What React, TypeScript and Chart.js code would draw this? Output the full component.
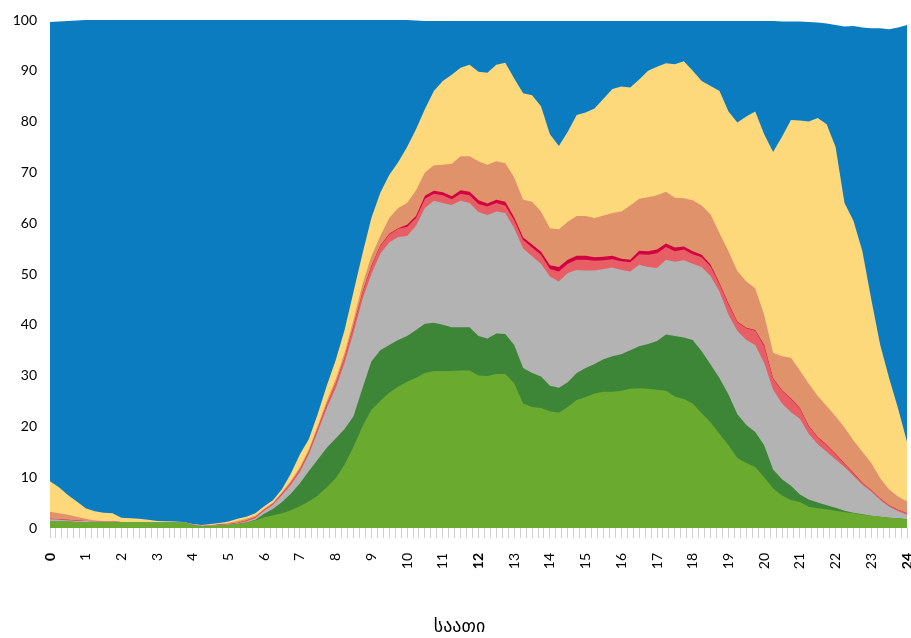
import React, { useEffect, useRef } from "react";
import { Chart, registerables } from "chart.js";

Chart.register(...registerables);

// hour of day (15-minute steps)
const hours = [
  0, 0.25, 0.5, 0.75, 1, 1.25, 1.5, 1.75, 2, 2.25, 2.5, 2.75, 3, 3.25, 3.5, 3.75,
  4, 4.25, 4.5, 4.75, 5, 5.25, 5.5, 5.75, 6, 6.25, 6.5, 6.75, 7, 7.25, 7.5, 7.75,
  8, 8.25, 8.5, 8.75, 9, 9.25, 9.5, 9.75, 10, 10.25, 10.5, 10.75, 11, 11.25, 11.5, 11.75,
  12, 12.25, 12.5, 12.75, 13, 13.25, 13.5, 13.75, 14, 14.25, 14.5, 14.75, 15, 15.25, 15.5, 15.75,
  16, 16.25, 16.5, 16.75, 17, 17.25, 17.5, 17.75, 18, 18.25, 18.5, 18.75, 19, 19.25, 19.5, 19.75,
  20, 20.25, 20.5, 20.75, 21, 21.25, 21.5, 21.75, 22, 22.25, 22.5, 22.75, 23, 23.25, 23.5, 23.75,
  24,
];

// cumulative upper boundaries (%) of each stacked band, bottom to top
const lightGreenTop = [
  1.3, 1.3, 1.3, 1.2, 1.2, 1.2, 1.2, 1.2, 1.1, 1.1, 1.1, 1.1, 1.1, 1.1, 1.1, 1.1,
  0.6, 0.3, 0.4, 0.5, 0.6, 0.8, 1.1, 1.5, 2.1, 2.5, 2.9, 3.5, 4.3, 5.2, 6.4, 8.0,
  9.8, 12.5, 16.0, 20.0, 23.3, 25.0, 26.6, 27.8, 28.8, 29.6, 30.5, 30.9, 30.9, 30.9, 31.0, 31.0,
  30.0, 29.9, 30.3, 30.3, 28.5, 24.5, 23.8, 23.6, 23.0, 22.7, 23.8, 25.2, 25.8, 26.5, 26.8, 26.8,
  27.0, 27.4, 27.5, 27.4, 27.2, 27.0, 25.9, 25.4, 24.5, 22.6, 20.8, 18.5, 16.3, 13.8, 12.8, 12.0,
  10.0, 7.8, 6.4, 5.5, 5.1, 4.2, 3.9, 3.7, 3.4, 3.1, 2.9, 2.6, 2.4, 2.2, 2.0, 1.9,
  1.7,
];
const darkGreenTop = [
  1.3, 1.3, 1.3, 1.2, 1.2, 1.2, 1.2, 1.2, 1.1, 1.1, 1.1, 1.1, 1.1, 1.1, 1.1, 1.1,
  0.6, 0.3, 0.4, 0.5, 0.6, 0.8, 1.1, 1.6, 2.8, 3.8, 5.1, 6.8, 8.8, 11.2, 13.5, 15.8,
  17.6, 19.5, 22.0, 27.5, 32.8, 35.0, 36.0, 37.0, 37.8, 39.0, 40.2, 40.4, 40.0, 39.5, 39.5, 39.5,
  37.8, 37.3, 38.3, 38.2, 36.0, 31.5, 30.5, 29.8, 28.0, 27.6, 28.7, 30.5, 31.5, 32.3, 33.2, 33.8,
  34.2, 35.0, 35.8, 36.2, 36.8, 38.1, 37.8, 37.5, 37.0, 34.8, 32.2, 29.5, 26.3, 22.4, 20.3, 18.9,
  16.3, 11.5, 9.6, 8.3, 6.6, 5.6, 5.0, 4.5, 4.0, 3.4, 3.0, 2.7, 2.4, 2.2, 2.0, 1.9,
  1.7,
];
const grayTop = [
  1.7, 1.6, 1.5, 1.4, 1.4, 1.3, 1.3, 1.3, 1.2, 1.2, 1.2, 1.2, 1.2, 1.2, 1.2, 1.2,
  0.7, 0.4, 0.5, 0.6, 0.7, 0.9, 1.3, 1.9, 3.4, 4.6, 6.5, 8.5, 11.0, 14.5, 19.0, 23.5,
  27.5, 32.5, 38.5, 45.0, 50.0, 54.0, 56.2, 57.3, 57.5, 59.5, 63.0, 64.4, 64.0, 63.6, 64.4, 64.0,
  62.2, 61.6, 62.3, 62.0, 59.0, 55.0, 53.5, 52.0, 49.5, 48.5, 50.2, 50.8, 50.7, 50.7, 51.0, 51.3,
  50.8, 50.5, 51.8, 51.4, 51.2, 52.8, 52.4, 52.7, 52.0, 51.4, 49.6, 46.5, 42.0, 38.8, 37.0, 36.0,
  32.5, 27.2, 24.5, 22.8, 21.5, 18.5, 16.5, 15.0, 13.5, 12.0, 10.3, 8.5, 7.2, 5.5, 4.2, 3.3,
  2.6,
];
const pinkTop = [
  1.8, 1.7, 1.6, 1.5, 1.4, 1.3, 1.3, 1.3, 1.2, 1.2, 1.2, 1.2, 1.2, 1.2, 1.2, 1.2,
  0.7, 0.4, 0.5, 0.7, 0.8, 1.0, 1.5, 2.1, 3.6, 4.8, 6.8, 8.9, 11.5, 15.0, 19.6, 24.3,
  28.4, 33.5, 39.7, 46.3, 51.5, 55.5, 57.8, 58.9, 59.3, 61.0, 64.8, 65.8, 65.5, 64.7, 65.8, 65.5,
  63.8, 63.3, 64.0, 63.5, 60.6, 56.7, 55.2, 53.8, 51.0, 50.5, 52.0, 52.8, 52.8, 52.6, 52.7, 52.9,
  52.5, 52.3, 53.9, 53.8, 54.1, 55.3, 54.5, 54.8, 53.9, 53.3, 51.5, 48.0, 44.0, 40.5, 39.3, 38.9,
  35.8, 29.4, 27.0, 25.4, 23.5, 20.0, 17.8, 16.3, 14.5, 12.6, 10.8, 8.9, 7.5, 5.8, 4.5, 3.6,
  2.9,
];
const crimsonTop = [
  1.8, 1.7, 1.6, 1.5, 1.4, 1.3, 1.3, 1.3, 1.2, 1.2, 1.2, 1.2, 1.2, 1.2, 1.2, 1.2,
  0.7, 0.4, 0.5, 0.7, 0.8, 1.0, 1.5, 2.1, 3.6, 4.8, 6.8, 8.9, 11.5, 15.0, 19.6, 24.3,
  28.4, 33.5, 39.8, 46.4, 51.6, 55.6, 57.9, 59.0, 59.7, 61.4, 65.4, 66.4, 66.1, 65.3, 66.5, 66.2,
  64.5, 63.9, 64.6, 64.2, 61.1, 57.2, 55.8, 54.4, 51.7, 51.4, 52.8, 53.6, 53.6, 53.3, 53.4, 53.6,
  53.0, 52.8, 54.6, 54.5, 54.8, 56.0, 55.2, 55.4, 54.5, 53.8, 51.8, 48.2, 44.2, 40.6, 39.4, 39.0,
  36.0, 29.5, 27.1, 25.5, 23.6, 20.1, 17.9, 16.4, 14.6, 12.7, 10.9, 8.9, 7.5, 5.8, 4.5, 3.6,
  2.9,
];
const salmonTop = [
  3.2, 2.9, 2.6, 2.2, 1.8, 1.5, 1.4, 1.3, 1.2, 1.2, 1.2, 1.2, 1.2, 1.2, 1.2, 1.1,
  0.7, 0.5, 0.6, 0.8, 1.0, 1.4, 1.8, 2.4, 3.8, 5.0, 7.1, 9.3, 12.0, 15.5, 20.2, 25.0,
  29.3, 34.5, 41.0, 48.0, 53.5, 57.5, 61.0, 63.0, 64.0, 66.5, 70.0, 71.4, 71.5, 71.7, 73.2, 73.2,
  72.2, 71.5, 72.2, 71.8, 69.0, 64.6, 64.2, 62.3, 59.0, 58.8, 60.3, 61.4, 61.4, 61.0, 61.5, 62.0,
  62.3, 63.5, 64.8, 65.1, 65.5, 66.2, 65.0, 64.9, 64.5, 63.5, 61.7, 58.0, 54.5, 50.6, 48.5, 47.2,
  42.0, 34.5, 33.8, 33.5, 31.0, 28.4, 26.0, 24.0, 22.0, 19.8, 17.2, 15.0, 12.8, 9.8, 7.6, 6.2,
  5.2,
];
const yellowTop = [
  9.2, 8.0, 6.5, 5.2, 3.9, 3.3, 3.0, 2.9, 2.0, 1.9, 1.8, 1.6, 1.4, 1.35, 1.3, 1.2,
  0.8, 0.6, 0.8, 1.0, 1.3, 1.8, 2.2, 2.9, 4.3, 5.5, 7.7, 10.8, 14.5, 17.5, 22.5, 28.0,
  33.0, 39.0, 46.5, 54.0, 61.0, 66.0, 69.5, 72.0, 75.0, 78.5, 82.5, 86.0, 88.0, 89.2, 90.6, 91.2,
  89.8, 89.6, 91.2, 91.6, 88.5, 85.6, 85.2, 83.0, 77.5, 75.2, 78.0, 81.3, 81.8, 82.6, 84.5, 86.4,
  86.9, 86.7, 88.3, 90.0, 90.8, 91.5, 91.3, 91.9, 90.0, 88.0, 87.0, 86.0, 82.0, 79.8, 81.0, 82.0,
  77.5, 74.0, 77.0, 80.3, 80.2, 80.0, 80.7, 79.5, 75.0, 64.0, 60.5, 54.5, 45.0, 36.0, 29.5, 23.5,
  17.0,
];
const blueTop = [
  99.6, 99.7, 99.8, 99.9, 100, 100, 100, 100, 100, 100, 100, 100, 100, 100, 100, 100,
  100, 100, 100, 100, 100, 100, 100, 100, 100, 100, 100, 100, 100, 100, 100, 100,
  100, 100, 100, 100, 100, 100, 100, 100, 100, 99.9, 99.8, 99.8, 99.8, 99.8, 99.8, 99.8,
  99.8, 99.8, 99.8, 99.8, 99.8, 99.8, 99.8, 99.8, 99.8, 99.8, 99.8, 99.8, 99.8, 99.8, 99.8, 99.8,
  99.8, 99.8, 99.8, 99.8, 99.8, 99.8, 99.8, 99.8, 99.8, 99.8, 99.8, 99.8, 99.8, 99.8, 99.8, 99.8,
  99.8, 99.8, 99.7, 99.7, 99.7, 99.6, 99.5, 99.3, 99.0, 98.7, 98.8, 98.5, 98.4, 98.4, 98.2, 98.5,
  99.0,
];

const yTicks = [0, 10, 20, 30, 40, 50, 60, 70, 80, 90, 100];
const boldHours = [0, 12, 24];
const axisTitle = "საათი";

const layers = [
  { name: "light green", values: lightGreenTop, color: "#6AAB2F" },
  { name: "dark green", values: darkGreenTop, color: "#3D8638" },
  { name: "gray", values: grayTop, color: "#B3B3B3" },
  { name: "pink", values: pinkTop, color: "#E75F64" },
  { name: "crimson", values: crimsonTop, color: "#D20041" },
  { name: "salmon", values: salmonTop, color: "#E0926A" },
  { name: "yellow", values: yellowTop, color: "#FED97C" },
  { name: "blue", values: blueTop, color: "#0C7CC1" },
];

const isWhole = (v: number) => Math.abs(v - Math.round(v)) < 1e-6;

export default function App() {
  const ref = useRef<HTMLCanvasElement | null>(null);

  useEffect(() => {
    if (!ref.current) return;
    const chart = new Chart(ref.current, {
      type: "line",
      data: {
        datasets: layers.map((l) => ({
          label: l.name,
          data: hours.map((h, i) => ({ x: h, y: l.values[i] })),
          backgroundColor: l.color,
          borderColor: l.color,
          borderWidth: 0,
          pointRadius: 0,
          pointHoverRadius: 0,
          tension: 0,
          fill: "origin",
        })),
      },
      options: {
        animation: false,
        responsive: false,
        devicePixelRatio: 1,
        events: [],
        layout: { padding: { left: 12, right: 4, top: 20, bottom: 0 } },
        plugins: {
          legend: { display: false },
          tooltip: { enabled: false },
          title: {
            display: true,
            position: "bottom",
            text: axisTitle,
            color: "#000",
            font: { family: "DejaVu Sans", size: 18, weight: "normal" },
            padding: { top: 0, bottom: 0 },
          },
        },
        scales: {
          x: {
            type: "linear",
            min: 0,
            max: 24,
            grid: {
              display: true,
              drawOnChartArea: false,
              drawTicks: true,
              tickLength: 10,
              color: "#CFCFCF",
            },
            border: { display: false },
            ticks: {
              stepSize: 1 / 6,
              autoSkip: false,
              minRotation: 90,
              maxRotation: 90,
              padding: 15,
              color: "#000",
              font: (ctx: any) => ({
                family: "Lato",
                size: 14,
                weight:
                  ctx.tick && isWhole(ctx.tick.value) && boldHours.includes(Math.round(ctx.tick.value))
                    ? "bold"
                    : "normal",
              }),
              callback: (v: any) => (isWhole(Number(v)) ? String(Math.round(Number(v))) : ""),
            },
            afterFit: (s: any) => {
              s.height = 88.4;
              s.paddingLeft = 0;
              s.paddingRight = 0;
            },
          },
          y: {
            min: 0,
            max: 100,
            grid: { display: false, drawTicks: false },
            border: { display: false },
            afterBuildTicks: (s: any) => {
              s.ticks = yTicks.map((v) => ({ value: v }));
            },
            ticks: {
              padding: 13,
              color: "#000",
              font: { family: "Lato", size: 14 },
            },
            afterFit: (s: any) => {
              s.width = 38;
              s.paddingTop = 0;
              s.paddingBottom = 0;
            },
          },
        },
      },
    });
    return () => chart.destroy();
  }, []);

  return (
    <div style={{ position: "absolute", left: 0, top: 0, width: 911, height: 638 }}>
      <canvas ref={ref} width={911} height={638} style={{ display: "block" }} />
    </div>
  );
}
